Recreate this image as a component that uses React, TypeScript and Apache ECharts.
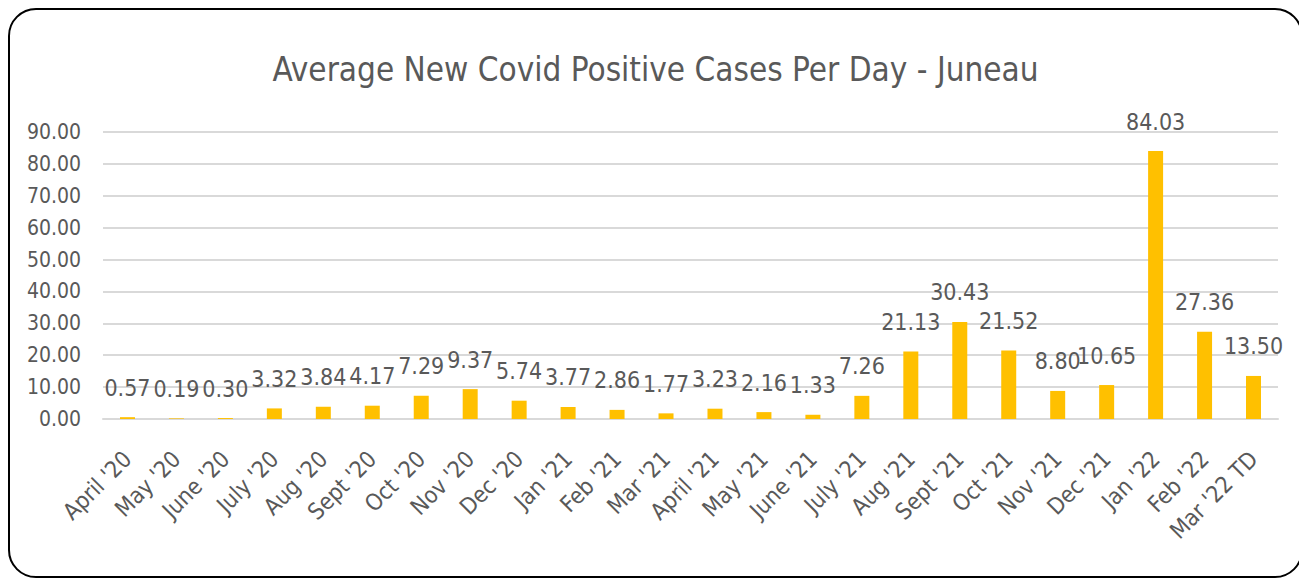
import React, { useEffect, useRef } from "react";
import * as echarts from "echarts";

const categories = [
  "April '20", "May '20", "June '20", "July '20", "Aug '20", "Sept '20", "Oct '20", "Nov '20",
  "Dec '20", "Jan '21", "Feb '21", "Mar '21", "April '21", "May '21", "June '21", "July '21",
  "Aug '21", "Sept '21", "Oct '21", "Nov '21", "Dec '21", "Jan '22", "Feb '22", "Mar '22 TD",
];
const values = [
  0.57, 0.19, 0.3, 3.32, 3.84, 4.17, 7.29, 9.37, 5.74, 3.77, 2.86, 1.77, 3.23, 2.16, 1.33, 7.26,
  21.13, 30.43, 21.52, 8.8, 10.65, 84.03, 27.36, 13.5,
];
const title = "Average New Covid Positive Cases Per Day - Juneau";

const FONT = "'Liberation Sans Narrow', 'DejaVu Sans Condensed', sans-serif";
const TXT = "#595959";

export default function App() {
  const ref = useRef<HTMLDivElement>(null);
  useEffect(() => {
    if (!ref.current) return;
    const chart = echarts.init(ref.current, null, { renderer: "svg" });
    chart.setOption({
      animation: false,
      textStyle: { fontFamily: FONT, color: TXT },
      title: {
        text: title,
        left: "center",
        top: 38,
        textStyle: { fontFamily: FONT, color: TXT, fontSize: 33, fontWeight: "normal" },
      },
      grid: { left: 93, right: 23, top: 122, bottom: 157, containLabel: false },
      xAxis: {
        type: "category",
        data: categories,
        axisLine: { lineStyle: { color: "#d9d9d9", width: 2 } },
        axisTick: { show: false },
        axisLabel: { rotate: 45, interval: 0, fontSize: 23, color: TXT, fontFamily: FONT, margin: 36 },
      },
      yAxis: {
        type: "value",
        min: 0,
        max: 90,
        interval: 10,
        axisLine: { show: false },
        axisTick: { show: false },
        splitLine: { lineStyle: { color: "#d9d9d9", width: 2 } },
        axisLabel: {
          fontSize: 21,
          color: TXT,
          fontFamily: FONT,
          margin: 22,
          formatter: (v: number) => v.toFixed(2),
        },
      },
      series: [
        {
          type: "bar",
          data: values,
          barWidth: 15,
          itemStyle: { color: "#FFC000" },
          label: {
            show: true,
            position: "top",
            distance: 18,
            fontSize: 23,
            color: TXT,
            fontFamily: FONT,
            formatter: (p: any) => Number(p.value).toFixed(2),
          },
        },
      ],
    });
    return () => chart.dispose();
  }, []);
  return (
    <div
      style={{
        position: "relative",
        width: 1295,
        height: 570,
        boxSizing: "border-box",
        border: "2px solid #000",
        borderRadius: 28,
        background: "#fff",
        overflow: "hidden",
      }}
    >
      <div ref={ref} style={{ position: "absolute", left: 0, top: 0, width: 1291, height: 566 }} />
    </div>
  );
}
